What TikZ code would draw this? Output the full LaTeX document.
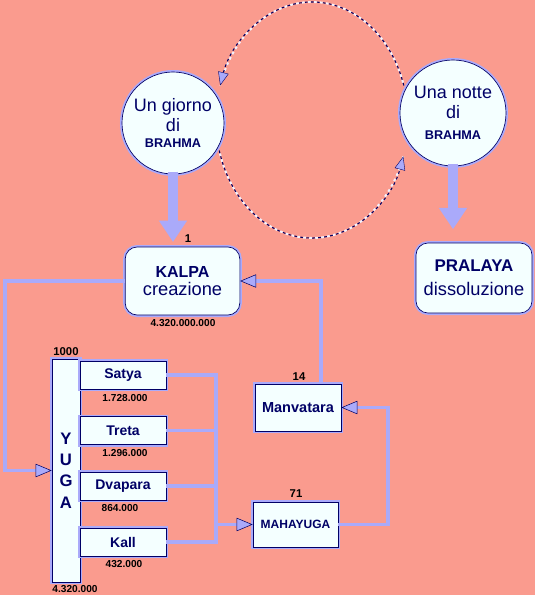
\documentclass[tikz,border=0pt]{standalone}
\usepackage{fontspec}
\setmainfont{Liberation Sans}
\usetikzlibrary{positioning, arrows.meta}
\definecolor{bgsalmon}{RGB}{250, 155, 142}
\definecolor{lav}{RGB}{170, 170, 250}
\definecolor{navyink}{RGB}{0, 0, 102}
\definecolor{boxfill}{RGB}{244, 255, 255}
\newcommand{\brahmafont}{\fontsize{9.5}{10}\selectfont\bfseries}
\newcommand{\headfont}{\fontsize{12}{13}\selectfont\bfseries}

\begin{document}
\begin{tikzpicture}[x=0.75pt, y=-0.75pt,
        bbox/.style={draw=navyink, line width=0.5pt, fill=boxfill,
            preaction={draw=lav, line width=3pt}, inner sep=0pt,
            text=navyink, align=center},
        circ/.style={bbox, circle, minimum size=#1,
            font=\fontsize{13.5}{15}\selectfont},
        ybox/.style={bbox, minimum width=64.5pt, minimum height=21pt,
            font=\fontsize{10.5}{12}\selectfont\bfseries},
        num/.style={font=\fontsize{7.6}{8}\selectfont\bfseries, inner sep=0pt},
        bignum/.style={font=\fontsize{8.5}{9}\selectfont\bfseries, inner sep=0pt},
        wire/.style={draw=lav, line width=2.8pt},
        link/.style={wire, -{Triangle[length=12pt, width=10pt,
            color=navyink, fill=lav, line width=0.4pt]}},
        fat/.style={draw=lav, line width=8pt,
            -{Triangle[length=16pt, width=20pt]}},
        orbit/.style={draw=navyink, line width=0.8pt,
            dash pattern=on 2pt off 2.5pt,
            preaction={draw=white!85!lav, line width=1.5pt, -,
                dash pattern=on 2pt off 2.5pt, dash phase=2.25pt},
            -{Triangle[length=10pt, width=8pt, color=navyink, fill=lav,
                line width=0.3pt]}}
    ]
    \fill[bgsalmon] (0,0) rectangle (535,595);
    \useasboundingbox (0,0) rectangle (535,595);

    \node[circ=76.5pt] (giorno) at (173,123)
        {Un giorno\\di\\[-3pt]{\brahmafont BRAHMA}};
    \node[circ=79.5pt] (notte) at (453,113)
        {Una notte\\di\\[1pt]{\brahmafont BRAHMA}};

    \node[bbox, rounded corners=9pt, minimum width=86pt, minimum height=51pt,
        font=\fontsize{13.7}{13.5}\selectfont] (kalpa) at (182.5,281)
        {{\headfont KALPA}\\creazione};
    \node[bbox, rounded corners=9pt, minimum width=87pt, minimum height=52.5pt,
        font=\fontsize{13.7}{18}\selectfont] (pralaya) at (474,278)
        {{\fontsize{12.7}{13}\selectfont\bfseries PRALAYA}\\dissoluzione};

    \node[bbox, minimum width=21pt, minimum height=167pt,
        font=\fontsize{12.5}{16}\selectfont\bfseries] (yuga) at (66,470.5)
        {Y\\U\\G\\A};
    \node[ybox] (satya) at (123,375) {Satya};
    \node[ybox] (treta) at (123,430.5) {Treta};
    \node[ybox] (dvapara) at (123,486) {Dvapara};
    \node[ybox] (kall) at (123,542) {Kall};

    \node[bbox, minimum width=64.5pt, minimum height=35.25pt,
        font=\fontsize{10.9}{12}\selectfont\bfseries] (manvatara) at (298,407.5)
        {Manvatara};
    \node[bbox, minimum width=63.75pt, minimum height=33.75pt,
        font=\fontsize{9}{10}\selectfont\bfseries] (mahayuga) at (295.5,524.5)
        {MAHAYUGA};

    \node[bignum] (kalpacount) at (188,239) {1};
    \node[num] (kalpayears) at (183,323) {4.320.000.000};
    \node[bignum] (yugacount) at (66,352) {1000};
    \node[num] (yugayears) at (75,589) {4.320.000};
    \node[num] (satyayears) at (125,398) {1.728.000};
    \node[num] (tretayears) at (125,453) {1.296.000};
    \node[num] (dvaparayears) at (120,508) {864.000};
    \node[num] (kallyears) at (124,564) {432.000};
    \node[bignum] (manvataracount) at (299,377) {14};
    \node[bignum] (mahayugacount) at (296,494) {71};

    \coordinate (orbit) at (312,120);
    \draw[orbit] (orbit) ++(-17:96 and 118)
        arc[start angle=-17, end angle=-163, x radius=96, y radius=118];
    \draw[orbit] (orbit) ++(165:96 and 118)
        arc[start angle=165, end angle=18, x radius=96, y radius=118];

    \draw[fat, shorten >=3.5pt] ([yshift=2pt]giorno.south)
        -- (giorno.south |- kalpa.north);
    \draw[fat, shorten >=10pt] ([yshift=2pt]notte.south)
        -- (notte.south |- pralaya.north);

    \draw[link] (kalpa.west) -- ++(-120,0) |- (yuga.west);
    \coordinate (bus) at (216,524.5);
    \draw[wire] (satya.east) -| (bus);
    \draw[wire] (kall.east) -| (bus);
    \draw[wire] (treta.east) -- (treta.east -| bus);
    \draw[wire] (dvapara.east) -- (dvapara.east -| bus);
    \draw[link] (bus) -- (mahayuga.west);
    \draw[link] (mahayuga.east) -- ++(50,0) |- (manvatara.east);
    \draw[link] ([xshift=17pt]manvatara.north) |- (kalpa.east);
\end{tikzpicture}
\end{document}
